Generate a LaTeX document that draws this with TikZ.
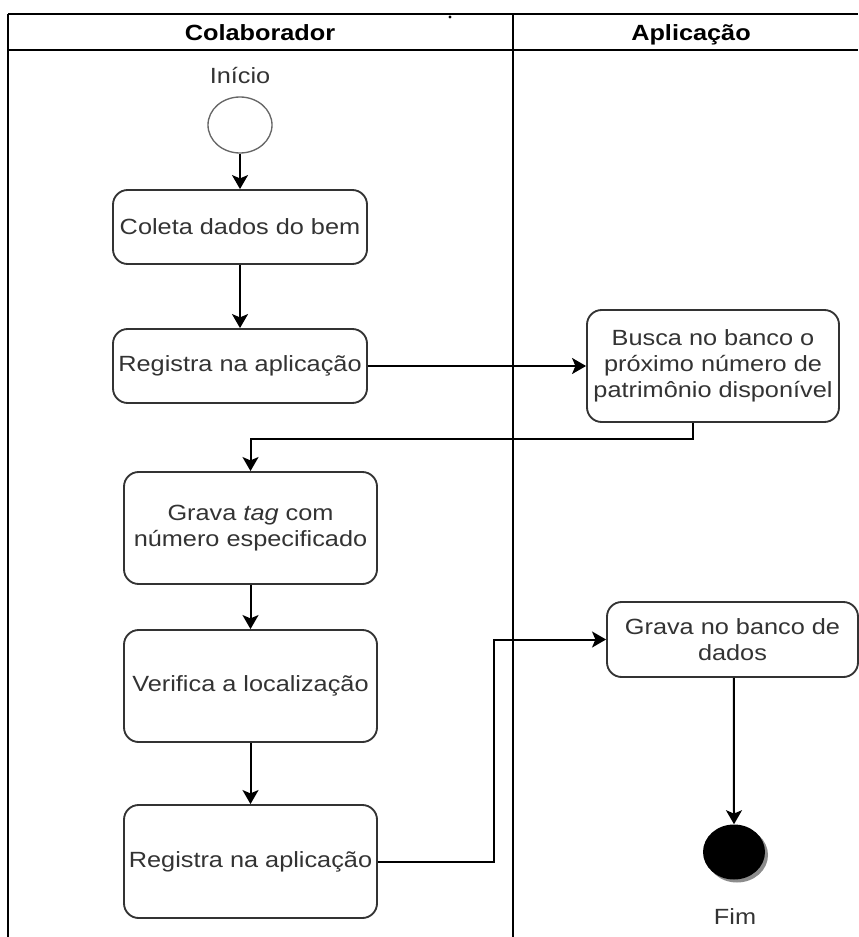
\documentclass[tikz,border=0pt]{standalone}
\usepackage{fontspec}
\setmainfont[FakeStretch=1.15]{Liberation Sans}
\usetikzlibrary{arrows.meta,shapes.geometric}

\begin{document}
\begin{tikzpicture}[x=0.75pt,y=-0.75pt,
  lane/.style={line width=1.4pt,draw=black},
  act/.style={draw=black!80,line width=1.4pt,rounded corners=11pt,fill=white,
    align=center,font=\fontsize{16.5}{19.5}\selectfont,text=black!80,inner sep=0pt},
  flow/.style={line width=1.5pt,draw=black,
    -{Stealth[length=10.5pt,width=12pt,inset=2.5pt]}},
  lbl/.style={font=\fontsize{16.5}{19.5}\selectfont,text=black!80,inner sep=0pt,
    text height=12pt,text depth=3.5pt},
  hdr/.style={font=\fontsize{16.5}{19.5}\selectfont\bfseries,text=black,inner sep=0pt,
    text height=12pt,text depth=3.5pt}]

\useasboundingbox (0,0) rectangle (858,937);

% swimlane frame
\draw[lane] (8,14) -- (858,14);
\draw[lane] (8,50) -- (858,50);
\draw[lane] (8,14) -- (8,937);
\draw[lane] (513,14) -- (513,937);
\fill (450,17) circle (1.6);

\node[hdr] (lanecol) at (260,35) {Colaborador};
\node[hdr] (laneapp) at (691,35) {Aplicação};

% start state
\node[lbl] (inicio) at (240,78) {Início};
\node[ellipse,draw=black!60,line width=1pt,fill=white,minimum width=48pt,
  minimum height=42pt,inner sep=0pt] (start) at (240,125) {};

% activities
\node[act,minimum width=190.5pt,minimum height=55.5pt] (coleta) at (240,227)
  {Coleta dados do bem};
\node[act,minimum width=190.5pt,minimum height=55.5pt] (reg1) at (240,366)
  {Registra na aplicação};
\node[act,minimum width=189pt,minimum height=84pt] (busca) at (713,366)
  {Busca no banco o\\próximo número de\\patrimônio disponível};
\node[act,minimum width=189.75pt,minimum height=84pt] (gravatag) at (250.5,528)
  {Grava \textit{tag} com\\número especificado};
\node[act,minimum width=189.75pt,minimum height=84pt] (verifica) at (250.5,686)
  {Verifica a localização};
\node[act,minimum width=189.75pt,minimum height=84.75pt] (reg2) at (250.5,861.5)
  {Registra na aplicação};
\node[act,minimum width=188.25pt,minimum height=56.25pt] (gravadb) at (732.5,639.5)
  {Grava no banco de\\dados};

% final state
\fill[black!45] (737,855) ellipse (31 and 27.5);
\node[ellipse,fill=black,minimum width=46.5pt,minimum height=41.25pt,inner sep=0pt]
  (final) at (734,852) {};
\node[lbl] (fim) at (735,919) {Fim};

% control flow
\draw[flow] (start.south) -- (coleta.north);
\draw[flow] (coleta.south) -- (reg1.north);
\draw[flow] (reg1.east) -- (busca.west);
\draw[flow] ([xshift=-15pt]busca.south) -- ++(0,16) -| (gravatag.north);
\draw[flow] (gravatag.south) -- (verifica.north);
\draw[flow] (verifica.south) -- (reg2.north);
\draw[flow] (reg2.east) -- ++(116,0) |- (gravadb.west);
\draw[flow] ([xshift=1pt]gravadb.south) -- (final.north);
\end{tikzpicture}
\end{document}
